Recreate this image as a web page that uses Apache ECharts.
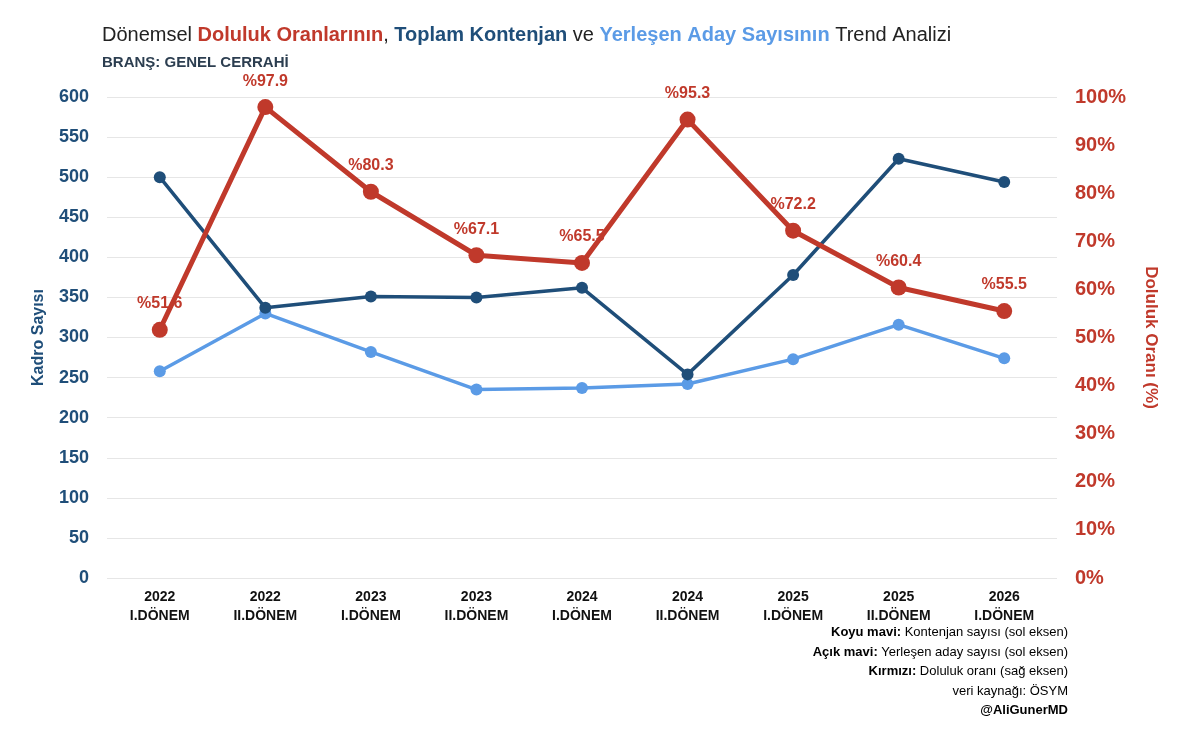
<!DOCTYPE html>
<html><head><meta charset="utf-8">
<script src="https://cdn.jsdelivr.net/npm/echarts@6/dist/echarts.min.js"></script>
<style>html,body{margin:0;background:#fff}#c{width:1200px;height:744px}</style>
</head><body><div id="c"></div>
<script>
const categories = ["2022\nI.DÖNEM","2022\nII.DÖNEM","2023\nI.DÖNEM","2023\nII.DÖNEM","2024\nI.DÖNEM","2024\nII.DÖNEM","2025\nI.DÖNEM","2025\nII.DÖNEM","2026\nI.DÖNEM"];
const kontenjan = [500, 337, 351, 350, 362, 254, 378, 523, 494];
const yerlesen = [258, 330, 282, 235, 237, 242, 273, 316, 274];
const doluluk = [51.6, 97.9, 80.3, 67.1, 65.5, 95.3, 72.2, 60.4, 55.5];
const notes = [
    ["Koyu mavi:", " Kontenjan sayısı (sol eksen)", "d"],
    ["Açık mavi:", " Yerleşen aday sayısı (sol eksen)", "l"],
    ["Kırmızı:", " Doluluk oranı (sağ eksen)", "r"],
    ["", "veri kaynağı: ÖSYM", "d"],
    ["@AliGunerMD", "", "b"]
];

const DARK = "#1f4e79", LIGHT = "#5b9be6", RED = "#c0392b";
const F = "Liberation Sans, Arial, sans-serif";
const rich = {
    n: { fontSize: 13, color: "#333", fontFamily: F },
    d: { fontSize: 13, color: DARK, fontWeight: "bold", fontFamily: F },
    l: { fontSize: 13, color: LIGHT, fontWeight: "bold", fontFamily: F },
    r: { fontSize: 13, color: RED, fontWeight: "bold", fontFamily: F },
    b: { fontSize: 13, color: "#222", fontWeight: "bold", fontFamily: F }
};
const chart = echarts.init(document.getElementById("c"));
chart.setOption({
    textStyle: { fontFamily: F },
    title: [{
        left: 97, top: 20,
        text: "{n|Dönemsel }{r|Doluluk Oranlarının}{n|, }{d|Toplam Kontenjan}{n| ve }{l|Yerleşen Aday Sayısının}{n| Trend Analizi}",
        textStyle: { fontWeight: "normal", rich: {
            n: { fontSize: 20, color: "#222", fontWeight: "normal", fontFamily: F },
            r: { fontSize: 20, color: RED, fontWeight: "bold", fontFamily: F },
            d: { fontSize: 20, color: DARK, fontWeight: "bold", fontFamily: F },
            l: { fontSize: 20, color: LIGHT, fontWeight: "bold", fontFamily: F }
        } }
    }, {
        left: 97, top: 50, text: "BRANŞ: GENEL CERRAHİ",
        textStyle: { fontSize: 15, fontWeight: "bold", color: "#2c3e50", fontFamily: F }
    }],
    grid: { left: 107, right: 143, top: 97, bottom: 166 },
    xAxis: {
        type: "category", data: categories,
        axisLine: { show: false }, axisTick: { show: false },
        axisLabel: { color: "#111", fontWeight: "bold", fontSize: 14, lineHeight: 19, margin: 10 }
    },
    yAxis: [{
        type: "value", min: 0, max: 600, interval: 50,
        name: "Kadro Sayısı", nameLocation: "middle", nameGap: 60, nameRotate: 90,
        nameTextStyle: { color: DARK, fontWeight: "bold", fontSize: 16 },
        axisLabel: { color: DARK, fontWeight: "bold", fontSize: 18, margin: 18 },
        splitLine: { lineStyle: { color: "#e6e6e6" } }
    }, {
        type: "value", min: 0, max: 100, interval: 10,
        name: "Doluluk Oranı (%)", nameLocation: "middle", nameGap: 85, nameRotate: -90,
        nameTextStyle: { color: RED, fontWeight: "bold", fontSize: 17 },
        axisLabel: { color: RED, fontWeight: "bold", fontSize: 20, formatter: "{value}%", margin: 18 },
        splitLine: { show: false }
    }],
    series: [{
        type: "line", data: kontenjan, yAxisIndex: 0, color: DARK,
        symbol: "circle", symbolSize: 12, lineStyle: { width: 3.5 }, z: 3
    }, {
        type: "line", data: yerlesen, yAxisIndex: 0, color: LIGHT,
        symbol: "circle", symbolSize: 12, lineStyle: { width: 3.5 }, z: 2
    }, {
        type: "line", data: doluluk, yAxisIndex: 1, color: RED,
        symbol: "circle", symbolSize: 16, lineStyle: { width: 5 }, z: 4,
        label: { show: true, position: "top", distance: 10, formatter: p => "%" + p.value.toFixed(1),
            color: RED, fontWeight: "bold", fontSize: 16 }
    }],
    graphic: notes.map((n, i) => ({
        type: "text", right: 132, top: 626 + i * 19.5,
        style: {
            text: (n[0] ? "{" + n[2] + "|" + n[0] + "}" : "") + (n[1] ? "{n|" + n[1] + "}" : ""),
            rich: rich
        }
    }))
});
</script></body></html>
